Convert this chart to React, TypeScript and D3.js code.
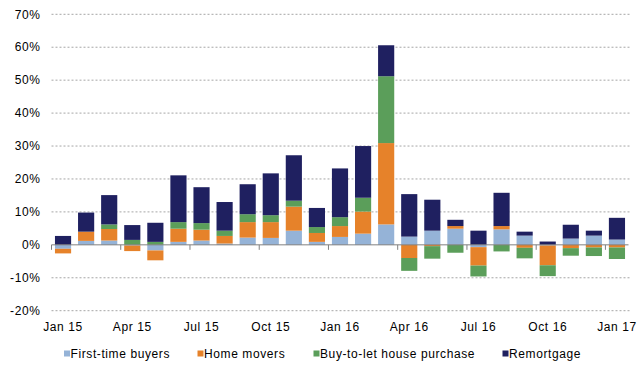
import * as d3 from "d3";

const months = [
  "Jan 15", "Feb 15", "Mar 15", "Apr 15", "May 15", "Jun 15", "Jul 15", "Aug 15", "Sep 15",
  "Oct 15", "Nov 15", "Dec 15", "Jan 16", "Feb 16", "Mar 16", "Apr 16", "May 16", "Jun 16",
  "Jul 16", "Aug 16", "Sep 16", "Oct 16", "Nov 16", "Dec 16", "Jan 17",
];

const firstTime = [-1.2, 1.2, 1.3, -0.2, -1.7, 0.9, 1.3, 0.4, 2.2, 2.1, 4.3, 0.9, 2.4, 3.4, 6.2, 2.5, 4.3, 4.9, -0.7, 4.7, 2.8, -0.2, 1.9, 2.8, 1.6];
const homeMovers = [-1.4, 2.8, 3.5, -1.7, -3.0, 4.0, 3.3, 2.3, 4.7, 4.8, 7.3, 2.7, 3.3, 6.7, 24.7, -4.0, -0.4, 0.8, -5.6, 1.0, -0.9, -6.0, -1.0, -0.8, -0.8];
const buyToLet = [0, 0, 1.4, 1.5, 0.9, 2.0, 2.0, 1.6, 2.4, 2.1, 1.8, 1.8, 2.7, 4.2, 20.3, -3.9, -3.8, -2.4, -3.3, -2.0, -3.2, -3.3, -2.3, -2.6, -3.5];
const remortgage = [2.7, 5.8, 8.9, 4.5, 5.8, 14.2, 10.9, 8.7, 9.1, 12.7, 13.8, 5.8, 14.8, 15.7, 9.4, 12.9, 9.4, 1.9, 4.3, 10.1, 1.2, 1.0, 4.2, 1.5, 6.6];

const seriesNames = ["First-time buyers", "Home movers", "Buy-to-let house purchase", "Remortgage"];
const colors = ["#95B3D7", "#E6822A", "#5B9E5A", "#1F2060"];
const yTicks = [-20, -10, 0, 10, 20, 30, 40, 50, 60, 70];
const labelEvery = 3;

const W = 640;
const H = 373;
const font = "'Liberation Sans', Arial, sans-serif";

export default function App() {
  const keys = ["ftb", "hm", "btl", "rm"];
  const rows = months.map((m, i) => ({
    month: m,
    ftb: firstTime[i],
    hm: homeMovers[i],
    btl: buyToLet[i],
    rm: remortgage[i],
  }));
  const stacked = d3.stack<any>().keys(keys).offset(d3.stackOffsetDiverging)(rows);

  const x = d3.scaleBand().domain(months).range([51.5, 628.5]).paddingInner(0.3).paddingOuter(0.15);
  const y = d3.scaleLinear().domain([-20, 70]).range([310.7, 14.3]);
  const step = x.step();
  const left = 51.5;

  // legend text start positions
  const legendX = [70.5, 204, 320, 509];

  return (
    <svg width={W} height={H} style={{ position: "absolute", left: 0, top: 0 }} fontFamily={font} letterSpacing={0.6}>
      {yTicks.filter((t) => t !== 0).map((t) => (
        <line key={t} x1={left} x2={630} y1={y(t)} y2={y(t)} stroke="#A6A6A6" strokeWidth={1} strokeDasharray="2,2" />
      ))}
      {yTicks.map((t) => (
        <text key={t} x={40.5} y={y(t)} dy="0.35em" textAnchor="end" fontSize={12} fill="#000">
          {t}%
        </text>
      ))}
      {stacked.map((s, si) => (
        <g key={s.key} fill={colors[si]}>
          {s.map((d, i) => {
            const y0 = y(Math.max(d[0], d[1]));
            const y1 = y(Math.min(d[0], d[1]));
            if (y1 - y0 <= 0) return null;
            return <rect key={i} x={x(months[i])} width={x.bandwidth()} y={y0} height={y1 - y0} />;
          })}
        </g>
      ))}
      <line x1={left} x2={628.5} y1={y(0)} y2={y(0)} stroke="#808080" strokeWidth={1} />
      {months.map((m, i) =>
        i % labelEvery === 0 ? (
          <g key={m}>
            <line x1={left + i * step} x2={left + i * step} y1={y(0)} y2={y(0) + 5} stroke="#808080" />
            <text x={(x(m) as number) + x.bandwidth() / 2} y={331} textAnchor="middle" fontSize={12} fill="#000">
              {m}
            </text>
          </g>
        ) : null
      )}
      {seriesNames.map((n, i) => (
        <g key={n}>
          <rect x={legendX[i] - 6.5} y={350.5} width={6} height={6} fill={colors[i]} />
          <text x={legendX[i]} y={358} fontSize={12} fill="#000">
            {n}
          </text>
        </g>
      ))}
    </svg>
  );
}
